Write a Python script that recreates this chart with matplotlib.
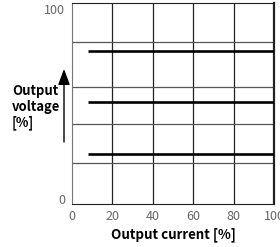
import matplotlib.pyplot as plt

# output current range of each constant-voltage line [%]
x_start = [8, 8, 8]
x_end = [100, 100, 100]
# output voltage levels [%]
voltage = [76, 51, 25]

x_ticks = [0, 20, 40, 60, 80, 100]
y_ticks = [0, 100]
y_grid = [20.5, 40, 58.5, 80.5]

plt.rcParams['font.family'] = ['Noto Sans CJK JP', 'DejaVu Sans']

fig = plt.figure(figsize=(2.8, 2.47), dpi=100)
ax = fig.add_axes([72/280, 1-204.3/247, 202/280, 201.3/247])

ax.set_xlim(0, 100)
ax.set_ylim(0, 100)

# grid
for gx in x_ticks[1:-1]:
    ax.axvline(gx, color='#222222', lw=0.9, zorder=1)
for gy in y_grid:
    ax.axhline(gy, color='#555555', lw=0.9, zorder=1)

# constant voltage lines
for x0, x1, v in zip(x_start, x_end, voltage):
    ax.plot([x0, x1], [v, v], color='k', lw=1.9, solid_capstyle='butt', zorder=3)

ax.set_xticks(x_ticks)
ax.set_yticks([])
ax.tick_params(axis='x', length=0, pad=4, labelsize=9, labelcolor='#666666')
ax.set_xticklabels([str(t) for t in x_ticks])

# y labels only at 0 and 100
ax.text(-3.5, 2, str(y_ticks[0]), ha='right', va='center', fontsize=9, color='#666666')
ax.text(-3.5, 96.5, str(y_ticks[1]), ha='right', va='center', fontsize=9, color='#666666')

for side in ['top', 'right', 'bottom']:
    ax.spines[side].set_color('#222222')
ax.spines['left'].set_color('#777777')
ax.spines['right'].set_linewidth(1.6)

ax.set_xlabel('Output current [%]', fontsize=9.6, fontweight='bold', labelpad=3)

fig.text(12/280, 1-107/247, 'Output\nvoltage\n[%]', ha='left', va='center',
         fontsize=9.4, fontweight='bold', linespacing=1.15)

ax.annotate('', xy=(64/280, 1-69/247), xytext=(64/280, 1-142/247),
            xycoords='figure fraction', textcoords='figure fraction',
            arrowprops=dict(arrowstyle='-|>,head_length=0.8,head_width=0.3',
                            color='k', lw=1, mutation_scale=12, shrinkA=0, shrinkB=0))

fig.savefig('out.png', dpi=100)
